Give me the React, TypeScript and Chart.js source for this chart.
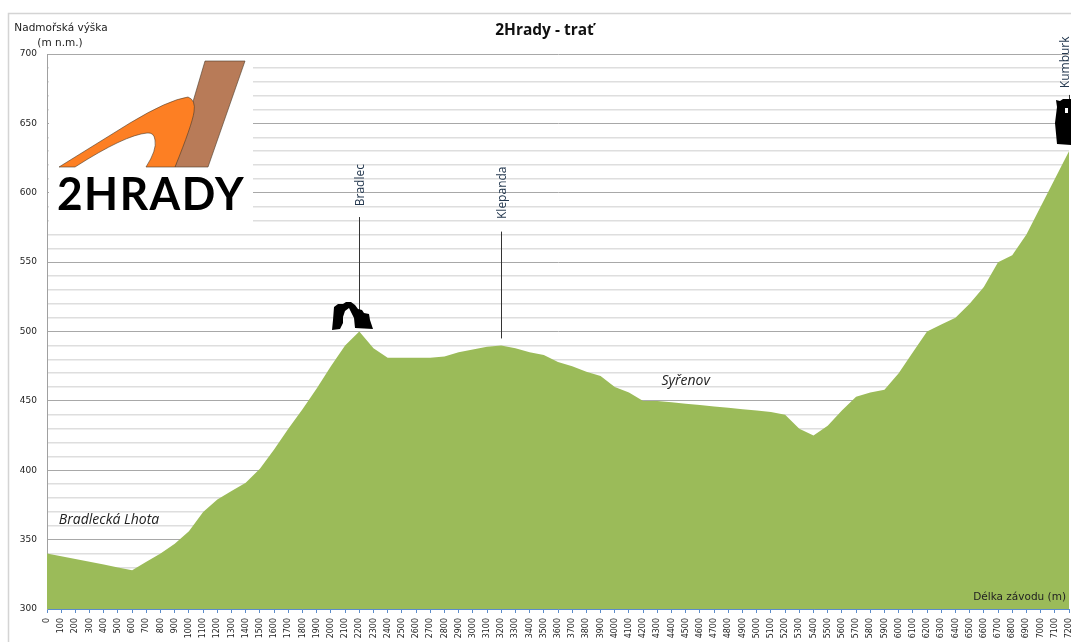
import React, { useEffect, useRef } from "react";
import { Chart, registerables } from "chart.js";

Chart.register(...registerables);

const distances = Array.from({ length: 73 }, (_, i) => String(i * 100));
const elevations = [
  340, 338, 336, 334, 332, 330, 328, 334, 340, 347, 356, 370, 379, 385, 391, 401, 415, 430, 444, 459,
  475, 490, 500, 488, 481, 481, 481, 481, 482, 485, 487, 489, 490, 488, 485, 483, 478, 475, 471, 468,
  460, 456, 450, 450, 449, 448, 447, 446, 445, 444, 443, 442, 440, 430, 425, 432, 443, 453, 456, 458,
  470, 485, 500, 505, 510, 520, 532, 550, 555, 570, 590, 610, 630,
];
const yLabels = [300, 350, 400, 450, 500, 550, 600, 650, 700];
const chartTitle = "2Hrady - trať";
const yTitle = ["Nadmořská výška", "(m n.m.)"];
const xTitle = "Délka závodu (m)";

// Rotated landmark labels: [name, category index, label centre y-value, line top value, line bottom value]
const landmarks: [string, number, number, number, number][] = [
  ["Bradlec", 22, 605.5, 582.5, 512],
  ["Klepanda", 32, 600, 572, 495],
  ["Kumburk", 72, 694, 670.5, 667],
];
// Italic place names: [name, category index, elevation]
const places: [string, number, number][] = [
  ["Bradlecká Lhota", 4.37, 364],
  ["Syřenov", 45, 464],
];

type P = [number, number];
const bradlecShape: P[] = [
  [332, 330], [333, 320], [334, 307], [338, 304], [343, 304], [346, 302], [351, 302], [355, 305], [358, 309],
  [362, 310], [364, 313], [369, 314], [370, 320], [373, 329],
  [355, 328], [354, 318], [349, 308], [345, 311], [343, 317], [343, 323], [340, 329],
];
const kumburkShape: P[] = [
  [1056, 100], [1060, 101], [1063, 99], [1071, 99], [1071, 145], [1057, 144], [1055, 123], [1057, 107],
];

function poly(ctx: CanvasRenderingContext2D, pts: P[], fill: string) {
  ctx.beginPath();
  pts.forEach(([x, y], i) => (i ? ctx.lineTo(x, y) : ctx.moveTo(x, y)));
  ctx.closePath();
  ctx.fillStyle = fill;
  ctx.fill();
}

const framePlugin = {
  id: "frame",
  beforeDraw(chart: any) {
    const c: CanvasRenderingContext2D = chart.ctx;
    c.save();
    c.fillStyle = "#fff";
    c.fillRect(0, 0, chart.width, chart.height);
    c.strokeStyle = "#d4d4d4";
    c.lineWidth = 1.5;
    c.beginPath();
    c.moveTo(8.5, 642);
    c.lineTo(8.5, 13.5);
    c.lineTo(1071, 13.5);
    c.stroke();
    c.restore();
  },
};

const overlayPlugin = {
  id: "overlay",
  afterDraw(chart: any) {
    const c: CanvasRenderingContext2D = chart.ctx;
    const xs = chart.scales.x;
    const ys = chart.scales.y;
    c.save();

    // axis titles
    c.fillStyle = "#222";
    c.font = '10.5px "DejaVu Sans"';
    c.textAlign = "center";
    c.textBaseline = "middle";
    c.fillText(yTitle[0], 61, 28);
    c.fillText(yTitle[1], 60, 43);
    c.textAlign = "right";
    c.fillText(xTitle, 1066, 597);

    // logo
    c.fillStyle = "#fff";
    c.fillRect(49, 55, 204, 172);
    c.strokeStyle = "#4a3a2a";
    c.lineWidth = 0.6;
    c.beginPath();
    c.moveTo(205, 61); c.lineTo(245, 61); c.lineTo(208, 167); c.lineTo(175, 167); c.lineTo(192, 105);
    c.closePath();
    c.fillStyle = "#B87B58";
    c.fill();
    c.stroke();
    c.beginPath();
    c.moveTo(59, 167);
    c.lineTo(130, 123);
    c.quadraticCurveTo(168, 100, 188, 97);
    c.quadraticCurveTo(196, 100, 194, 112);
    c.quadraticCurveTo(192, 125, 175, 167);
    c.lineTo(146, 167);
    c.quadraticCurveTo(157, 150, 155, 140);
    c.quadraticCurveTo(154, 132, 147, 133);
    c.quadraticCurveTo(125, 135, 75, 167);
    c.closePath();
    c.fillStyle = "#FD7F23";
    c.fill();
    c.stroke();
    c.fillStyle = "#000";
    c.font = 'bold 45px Lato';
    (c as any).letterSpacing = "1.5px";
    c.textAlign = "left";
    c.textBaseline = "alphabetic";
    c.fillText("2HRADY", 57, 210, 188);
    (c as any).letterSpacing = "0px";

    // landmark lines and labels
    landmarks.forEach(([name, idx, labelVal, top, bottom]) => {
      const x = xs.getPixelForValue(idx);
      c.strokeStyle = "#333";
      c.lineWidth = 1;
      c.beginPath();
      c.moveTo(Math.round(x) + 0.5, ys.getPixelForValue(top));
      c.lineTo(Math.round(x) + 0.5, ys.getPixelForValue(bottom));
      c.stroke();
      c.save();
      c.translate(Math.min(x + 1, 1066), ys.getPixelForValue(labelVal));
      c.rotate(-Math.PI / 2);
      c.fillStyle = "#24384f";
      c.font = '12px "Open Sans"';
      c.textAlign = "center";
      c.textBaseline = "middle";
      c.fillText(name, 0, 0);
      c.restore();
    });

    // landmark silhouettes
    poly(c, bradlecShape, "#000");
    poly(c, kumburkShape, "#000");
    c.fillStyle = "#fff";
    c.fillRect(1065, 108, 3, 5);

    // italic places
    c.fillStyle = "#222";
    c.font = 'italic 14px "Open Sans"';
    c.textAlign = "center";
    c.textBaseline = "middle";
    places.forEach(([name, idx, val]) => {
      c.fillText(name, xs.getPixelForValue(idx), ys.getPixelForValue(val));
    });
    c.restore();
  },
};

export default function App() {
  const ref = useRef<HTMLCanvasElement>(null);
  useEffect(() => {
    const chart = new Chart(ref.current!, {
      type: "line",
      data: {
        labels: distances,
        datasets: [
          {
            data: elevations,
            fill: "origin",
            backgroundColor: "#9BBB59",
            borderWidth: 0,
            pointRadius: 0,
            tension: 0,
          },
        ],
      },
      options: {
        responsive: false,
        animation: false,
        layout: { padding: { left: 20, right: 2, top: 0, bottom: 0 } },
        plugins: {
          legend: { display: false },
          tooltip: { enabled: false },
          title: {
            display: true,
            text: chartTitle,
            color: "#111",
            font: { family: '"Open Sans"', size: 15.5, weight: "bold" },
            padding: { top: 21, bottom: 14.4 },
          },
        },
        scales: {
          x: {
            type: "category",
            offset: false,
            afterFit: (s: any) => {
              s.height = 33;
              s.paddingLeft = 0;
              s.paddingRight = 0;
            },
            border: { color: "#5b8ccb", width: 1 },
            grid: { display: true, drawOnChartArea: false, drawTicks: true, tickLength: 4, tickColor: "#5b8ccb" },
            ticks: {
              autoSkip: false,
              minRotation: 90,
              maxRotation: 90,
              padding: 5,
              color: "#222",
              font: { family: '"DejaVu Sans"', size: 8 },
            },
          },
          y: {
            min: 300,
            max: 700,
            afterFit: (s: any) => {
              s.width = 27;
              s.paddingTop = 0;
              s.paddingBottom = 0;
            },
            afterBuildTicks: (s: any) => {
              s.ticks = Array.from({ length: 41 }, (_, i) => ({ value: 300 + i * 10 }));
            },
            border: { color: "#a0a0a0", width: 1 },
            grid: {
              color: (ctx: any) => (ctx.tick && ctx.tick.value % 50 === 0 ? "#a8a8a8" : "#dedede"),
              lineWidth: (ctx: any) => (ctx.tick && ctx.tick.value % 50 === 0 ? 1 : 1.5),
              tickLength: 0,
            },
            ticks: {
              autoSkip: false,
              padding: 10,
              color: "#222",
              font: { family: '"DejaVu Sans"', size: 9 },
              callback: (v: any) => (yLabels.includes(Number(v)) ? String(v) : ""),
            },
          },
        },
      },
      plugins: [framePlugin, overlayPlugin],
    } as any);
    return () => chart.destroy();
  }, []);
  return (
    <div style={{ position: "absolute", left: 0, top: 0, width: 1071, height: 642 }}>
      <canvas ref={ref} width={1071} height={642} style={{ display: "block" }} />
    </div>
  );
}
